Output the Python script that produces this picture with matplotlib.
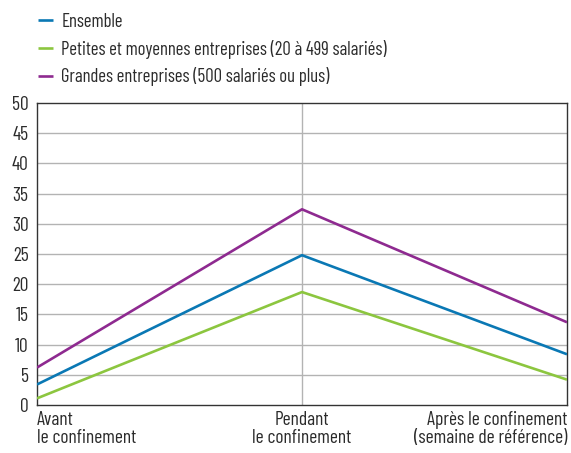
import matplotlib
matplotlib.use("Agg")
import matplotlib.pyplot as plt
from matplotlib import font_manager

names = {f.name for f in font_manager.fontManager.ttflist}
fam = [n for n in ["Barlow Condensed", "Archivo Narrow", "Asap Condensed", "DejaVu Sans"] if n in names]
plt.rcParams['font.family'] = fam

categories = ["Avant\nle confinement", "Pendant\nle confinement", "Après le confinement\n(semaine de référence)"]
series_names = ["Ensemble", "Petites et moyennes entreprises (20 à 499 salariés)",
                "Grandes entreprises (500 salariés ou plus)"]
ensemble = [3.4, 24.8, 8.4]
pme = [1.1, 18.7, 4.2]
grandes = [6.2, 32.4, 13.7]
yticks = list(range(0, 51, 5))
colors = ["#0a78b4", "#8cc63f", "#8e2a90"]

FS = 14
TXT = "#2b2b2b"

fig = plt.figure(figsize=(5.71, 4.53), dpi=100)
ax = fig.add_axes([37/571, 48/453, 530/571, 302/453])

x = list(range(len(categories)))
lines = []
for vals, c, n in zip([ensemble, pme, grandes], colors, series_names):
    l, = ax.plot(x, vals, color=c, lw=1.9, label=n, solid_capstyle='butt', zorder=3)
    lines.append(l)

ax.set_xlim(0, 2)
ax.set_ylim(0, 50)
ax.set_yticks(yticks)
ax.set_yticklabels([str(t) for t in yticks], fontsize=FS, color=TXT)
ax.set_xticks(x)
ax.set_xticklabels([])
ax.tick_params(axis='both', length=0, pad=6)
for y in yticks[1:-1]:
    ax.axhline(y, color="#b3b3b3", lw=1, zorder=1)
ax.axvline(1, color="#b3b3b3", lw=1, zorder=1)
for s in ax.spines.values():
    s.set_color("#333333")
    s.set_linewidth(1)

has = ['left', 'center', 'right']
for xi, lab, ha in zip(x, categories, has):
    ax.text(xi, -1.0, lab, ha=ha, va='top', fontsize=FS, color=TXT,
            transform=ax.transData, linespacing=1.0)

FL = 13.5
fig.legend(handles=lines, labels=series_names, loc='upper left',
           bbox_to_anchor=(21/571, 1 + 4/453), frameon=False, fontsize=FL,
           handlelength=0.8, handletextpad=0.45, labelspacing=0.47,
           labelcolor=TXT)

fig.savefig("out.png", dpi=100)
